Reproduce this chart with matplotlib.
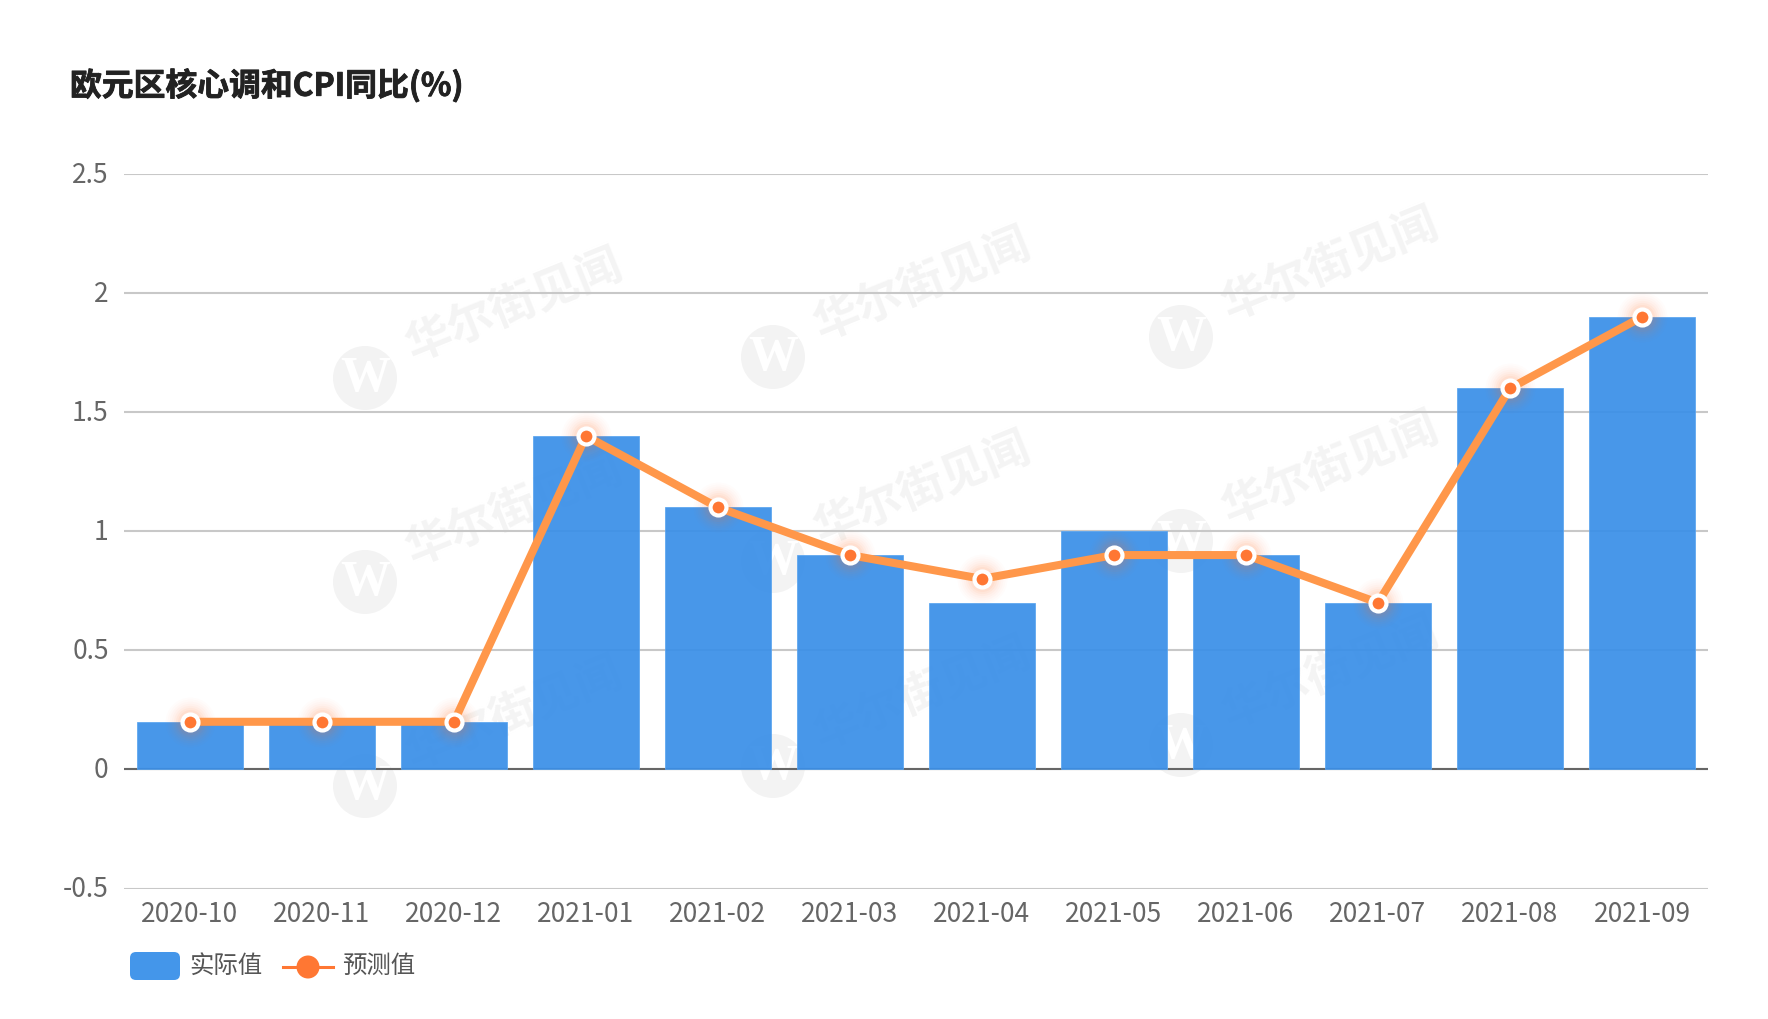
import matplotlib
matplotlib.use('Agg')
import matplotlib.pyplot as plt
from matplotlib.patches import Circle, FancyBboxPatch
from matplotlib.lines import Line2D
from matplotlib.transforms import Affine2D, IdentityTransform
import matplotlib.patheffects as pe

plt.rcParams['font.family'] = ['Noto Sans CJK SC', 'DejaVu Sans']

# 数据
months = ['2020-10', '2020-11', '2020-12', '2021-01', '2021-02', '2021-03',
          '2021-04', '2021-05', '2021-06', '2021-07', '2021-08', '2021-09']
actual = [0.2, 0.2, 0.2, 1.4, 1.1, 0.9, 0.7, 1.0, 0.9, 0.7, 1.6, 1.9]
forecast = [0.2, 0.2, 0.2, 1.4, 1.1, 0.9, 0.8, 0.9, 0.9, 0.7, 1.6, 1.9]
yticks = [-0.5, 0, 0.5, 1, 1.5, 2, 2.5]
yticklabels = ['-0.5', '0', '0.5', '1', '1.5', '2', '2.5']

W, H = 1768, 1020
fig = plt.figure(figsize=(W / 100, H / 100), dpi=100, facecolor='white')
ax = fig.add_axes([124 / W, 1 - 889.5 / H, (1708 - 124) / W, (889.5 - 175) / H])
ax.patch.set_alpha(0)

px = IdentityTransform()

# 水印
for lx, ly in [(365, 379), (773, 358), (1181, 338),
               (365, 583), (773, 562), (1181, 542),
               (365, 787), (773, 767), (1181, 746)]:
    fig.add_artist(Circle((lx, H - ly), 32, transform=px, color='#f3f3f3', lw=0, zorder=-1))
    fig.text(lx / W, 1 - ly / H, 'W', color='white', fontsize=36, family='Liberation Serif',
             weight='bold', ha='center', va='center', zorder=-1)
    fig.text((lx + 149) / W, 1 - (ly - 73) / H, '华尔街见闻', color='#f4f4f4', fontsize=33,
             weight='bold', rotation=22, rotation_mode='anchor', ha='center', va='center', zorder=-1)

x = list(range(len(months)))
ax.bar(x, actual, width=0.8, color='#3a8fe8', alpha=0.93, edgecolor='#5aa5f0', linewidth=0.6, zorder=3)

# 折线和光晕
for r, a in [(36, 0.015), (33, 0.02), (30, 0.025), (27, 0.03), (24, 0.04), (21, 0.05), (18, 0.06)]:
    ax.plot(x, forecast, ls='none', marker='o', ms=r, mfc='#ff7733', mec='none', alpha=a, zorder=4)
ax.plot(x, forecast, color='#ff974a', lw=5.8, solid_joinstyle='round', zorder=5)
ax.plot(x, forecast, ls='none', marker='o', ms=11.5, mfc='#ff7733', mec='white', mew=3, zorder=6)

ax.set_xlim(-0.5, 11.5)
ax.set_ylim(-0.5, 2.5)
ax.set_xticks(x)
ax.set_xticklabels(months, color='#666666', fontsize=19)
ax.set_yticks(yticks)
ax.set_yticklabels(yticklabels, color='#666666', fontsize=19)
ax.tick_params(length=0, axis='x', pad=8)
ax.tick_params(length=0, axis='y', pad=11)
for lab in ax.get_yticklabels():
    lab.set_transform(lab.get_transform() + Affine2D().translate(0, 3))

ax.grid(axis='y', color='#c8c8c8', lw=1.5, zorder=1)
for s in ax.spines.values():
    s.set_visible(False)
ax.axhline(0, color='#666666', lw=1.5, zorder=2)

# 标题
fig.text(70 / W, 1 - 87 / H, '欧元区核心调和CPI同比(%)', fontsize=22.9, weight='bold',
         color='#222222', ha='left', va='center',
         path_effects=[pe.withStroke(linewidth=0.6, foreground='#222222')])

# 图例
fig.add_artist(FancyBboxPatch((132, H - 979), 46, 24, boxstyle='round,pad=2,rounding_size=6',
                              transform=px, color='#4496ea', lw=0))
fig.text(189 / W, 1 - 966 / H, '实际值', fontsize=17.6, color='#555555', ha='left', va='center')
fig.add_artist(Line2D([283, 333], [H - 968, H - 968], transform=px, color='#ff7733', lw=2.2))
fig.add_artist(Circle((308, H - 968), 11.5, transform=px, color='#ff7733', lw=0))
fig.text(342 / W, 1 - 966 / H, '预测值', fontsize=17.6, color='#555555', ha='left', va='center')

fig.savefig('out.png', dpi=100)
